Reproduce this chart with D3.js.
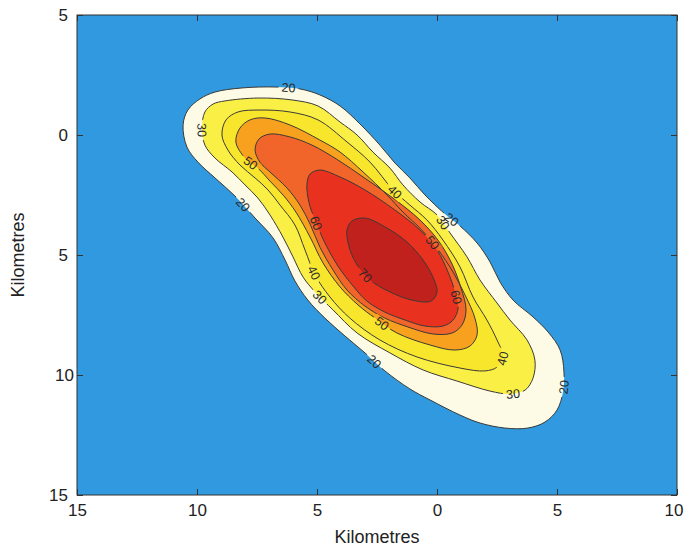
<!DOCTYPE html>
<html>
<head>
<meta charset="utf-8">
<script src="https://cdn.jsdelivr.net/npm/d3@7"></script>
<style>
  body { margin: 0; background: #fff; }
  text { font-family: "Liberation Sans", Arial, sans-serif; }
</style>
</head>
<body>
<script>
// contour levels (km grid)
const levels = [20, 30, 40, 50, 55, 60, 70];

const contour20 = [[-10.58,-0.42],[-10.38,-1.04],[-9.88,-1.5],[-9.25,-1.79],[-8.13,-1.96],[-6.75,-2.0],[-5.71,-1.92],[-4.88,-1.67],[-4.04,-1.21],[-3.21,-0.46],[-2.38,0.42],[-1.75,1.17],[-1.13,1.79],[-0.5,2.5],[0.33,3.29],[0.96,3.79],[1.67,4.5],[2.21,5.29],[2.63,6.13],[3.17,6.88],[4.0,7.58],[4.63,8.21],[5.13,8.96],[5.29,9.88],[5.25,10.71],[5.0,11.46],[4.5,11.96],[3.79,12.21],[2.83,12.21],[1.79,12.0],[0.96,11.67],[-0.29,11.04],[-1.13,10.58],[-2.17,9.83],[-3.0,9.08],[-3.83,8.38],[-4.67,7.63],[-5.38,6.88],[-5.92,6.08],[-6.33,5.21],[-6.83,4.29],[-7.58,3.46],[-8.42,2.54],[-9.25,1.79],[-9.96,1.13],[-10.42,0.5]];

const contour30 = [[-9.79,-0.29],[-9.67,-0.96],[-9.33,-1.29],[-8.83,-1.42],[-7.46,-1.54],[-6.04,-1.46],[-4.96,-1.21],[-4.04,-0.54],[-3.33,0],[-2.67,0.71],[-1.96,1.38],[-1.42,2.08],[-0.71,2.79],[0,3.33],[0.54,4.08],[1.25,5.08],[1.79,6.04],[2.5,7.0],[3.04,7.71],[3.75,8.54],[4.08,9.38],[4.0,10.13],[3.67,10.63],[3.04,10.79],[2.21,10.67],[0.83,10.25],[-0.58,9.79],[-1.96,9.08],[-3.33,8.25],[-4.33,7.29],[-5.08,6.54],[-5.58,5.92],[-6.0,5.08],[-6.42,4.25],[-6.96,3.33],[-7.46,2.63],[-8.0,2.08],[-8.54,1.54],[-9.25,0.96],[-9.67,0.42]];

const contour40 = [[-8.96,0],[-8.79,-0.63],[-8.29,-0.96],[-7.38,-1.04],[-6.13,-0.96],[-4.96,-0.63],[-3.75,0.29],[-2.79,1.13],[-1.83,2.29],[-1.13,2.92],[-0.42,3.54],[0.25,4.38],[0.96,5.5],[1.5,6.75],[2.08,7.71],[2.5,8.54],[2.75,9.21],[2.5,9.67],[2.0,9.83],[0.96,9.71],[-0.83,9.25],[-2.38,8.54],[-3.63,7.63],[-4.46,6.75],[-5.08,5.83],[-5.5,4.79],[-5.92,3.75],[-6.54,2.92],[-7.04,2.29],[-7.58,1.79],[-8.21,1.25],[-8.71,0.63]];

const contour50 = [[-8.38,0.29],[-8.21,-0.29],[-7.79,-0.63],[-7.17,-0.71],[-6.13,-0.42],[-4.88,0.21],[-4.04,0.71],[-3.08,1.54],[-2.08,2.5],[-1.42,3.21],[-0.71,3.88],[-0.17,4.5],[0.54,5.5],[1.17,6.67],[1.58,7.63],[1.67,8.33],[1.38,8.79],[0.75,8.96],[-0.29,8.75],[-1.67,8.25],[-2.58,7.63],[-3.29,7.08],[-4.04,6.33],[-4.75,5.33],[-5.29,4.25],[-5.88,3.21],[-6.38,2.54],[-6.96,1.92],[-7.46,1.38],[-8.0,0.96]];

const contour55 = [[-7.58,0.63],[-7.42,0.17],[-6.96,-0.04],[-6.13,0.08],[-5.21,0.42],[-4.13,1.04],[-3.08,1.75],[-1.83,2.63],[-0.71,3.54],[0.04,4.38],[0.63,5.38],[1.0,6.38],[1.21,7.29],[1.04,7.92],[0.63,8.25],[-0.17,8.29],[-1.21,8.0],[-2.17,7.63],[-3.0,7.13],[-3.75,6.46],[-4.33,5.63],[-4.88,4.67],[-5.29,3.71],[-5.71,2.92],[-6.25,2.21],[-6.96,1.54],[-7.38,1.13]];

const contour60 = [[-5.42,2.08],[-5.29,1.63],[-4.88,1.46],[-4.04,1.75],[-3.0,2.29],[-1.75,3.13],[-0.71,3.96],[0,4.79],[0.46,5.71],[0.75,6.54],[0.88,7.21],[0.67,7.71],[0.25,7.96],[-0.5,7.96],[-1.33,7.71],[-2.17,7.38],[-2.92,6.92],[-3.5,6.29],[-4.13,5.46],[-4.67,4.5],[-5.08,3.54],[-5.33,2.83]];

const contour70 = [[-3.75,3.96],[-3.54,3.58],[-3.0,3.46],[-2.08,3.88],[-1.25,4.46],[-0.58,5.21],[-0.17,5.92],[0,6.54],[-0.25,6.92],[-1.04,6.88],[-1.96,6.54],[-2.79,6.04],[-3.38,5.33],[-3.67,4.63]];

// [level, x km, y km] where each inline label sits
const labelPoints = [
  [20,-6.21,-1.96],[20,-8.0,2.83],[20,0.67,3.42],[20,-2.71,9.54],[20,5.13,10.5],
  [30,-9.75,-0.21],[30,0.13,3.71],[30,-4.88,6.75],[30,3.17,10.71],
  [40,-1.83,2.42],[40,-4.96,5.67],[40,2.63,9.29],
  [50,-7.75,1.17],[50,-0.17,4.46],[50,-2.25,7.79],
  [60,-5.29,3.79],[60,0.88,6.75],
  [70,-3.08,5.92]
];

const xTicks = [-15, -10, -5, 0, 5, 10];
const yTicks = [-5, 0, 5, 10, 15];

const contours = [
  {level: 20, points: contour20}, {level: 30, points: contour30},
  {level: 40, points: contour40}, {level: 50, points: contour50},
  {level: 55, points: contour55}, {level: 60, points: contour60},
  {level: 70, points: contour70}
];

const W = 684, H = 549;
const m = {left: 77, top: 15, right: 677, bottom: 495};

const x = d3.scaleLinear().domain([-15, 10]).range([m.left, m.right]);
const y = d3.scaleLinear().domain([-5, 15]).range([m.top, m.bottom]);
const fill = d3.scaleOrdinal()
  .domain(levels)
  .range(["#fdfbe6", "#faef45", "#f8e62c", "#f7a11e", "#f1652a", "#e8321f", "#c0211d"]);

const svg = d3.select("body").append("svg")
  .attr("width", W)
  .attr("height", H);

svg.append("rect").attr("width", W).attr("height", H).attr("fill", "#fff");

const defs = svg.append("defs");
defs.append("clipPath").attr("id", "plotArea").append("rect")
  .attr("x", m.left).attr("y", m.top)
  .attr("width", m.right - m.left).attr("height", m.bottom - m.top);

const plot = svg.append("g").attr("clip-path", "url(#plotArea)");

// below lowest level
plot.append("rect")
  .attr("x", m.left).attr("y", m.top)
  .attr("width", m.right - m.left).attr("height", m.bottom - m.top)
  .attr("fill", "#3199df");

const line = d3.line()
  .x(d => x(d[0]))
  .y(d => y(d[1]))
  .curve(d3.curveCatmullRomClosed.alpha(0.5));

contours.forEach(c => {
  plot.append("path")
    .attr("d", line(c.points))
    .attr("fill", fill(c.level));
});

// contour lines, with gaps cut where the labels go
const mask = defs.append("mask").attr("id", "gaps")
  .attr("maskUnits", "userSpaceOnUse")
  .attr("x", 0).attr("y", 0).attr("width", W).attr("height", H);
mask.append("rect").attr("width", W).attr("height", H).attr("fill", "#fff");

const lineGroup = plot.append("g").attr("mask", "url(#gaps)");
const paths = {};
contours.forEach(c => {
  paths[c.level] = lineGroup.append("path")
    .attr("d", line(c.points))
    .attr("fill", "none")
    .attr("stroke", "#3a3a36")
    .attr("stroke-width", 1)
    .node();
});

labelPoints.forEach(([lev, lx, ly]) => {
  const p = paths[lev];
  const L = p.getTotalLength();
  const tx = x(lx), ty = y(ly);
  let best = 0, bd = Infinity;
  for (let s = 0; s < L; s += 1) {
    const q = p.getPointAtLength(s);
    const d = (q.x - tx) ** 2 + (q.y - ty) ** 2;
    if (d < bd) { bd = d; best = s; }
  }
  const a = p.getPointAtLength((best - 5 + L) % L);
  const b = p.getPointAtLength((best + 5) % L);
  const c = p.getPointAtLength(best);
  let ang = Math.atan2(b.y - a.y, b.x - a.x) * 180 / Math.PI;
  if (ang > 90) ang -= 180;
  if (ang < -90) ang += 180;
  const tf = `translate(${c.x},${c.y}) rotate(${ang})`;

  mask.append("rect")
    .attr("x", -10).attr("y", -5).attr("width", 20).attr("height", 10)
    .attr("transform", tf)
    .attr("fill", "#000");

  plot.append("text")
    .attr("transform", tf)
    .attr("text-anchor", "middle")
    .attr("dy", "0.36em")
    .attr("font-size", 12.5)
    .attr("fill", "#2a2a2a")
    .text(lev);
});

// axes: ticks inward on all four sides
const fmt = d => Math.abs(d);
const axes = [
  {gen: d3.axisBottom(x).tickValues(xTicks).tickFormat(fmt), t: `translate(0,${m.bottom})`},
  {gen: d3.axisTop(x).tickValues(xTicks).tickFormat(""), t: `translate(0,${m.top})`},
  {gen: d3.axisLeft(y).tickValues(yTicks).tickFormat(fmt), t: `translate(${m.left},0)`},
  {gen: d3.axisRight(y).tickValues(yTicks).tickFormat(""), t: `translate(${m.right},0)`}
];
axes.forEach(ax => {
  const g = svg.append("g")
    .attr("transform", ax.t)
    .call(ax.gen.tickSize(-6).tickPadding(9));
  g.select(".domain").remove();
  g.selectAll("line").attr("stroke", "#333");
  g.selectAll("text")
    .attr("font-size", 17)
    .attr("fill", "#222")
    .style("font-family", "'Liberation Sans', Arial, sans-serif");
});

// last bottom label sits against the page edge
svg.selectAll("g.tick text")
  .filter(d => d === xTicks[xTicks.length - 1])
  .attr("text-anchor", "end")
  .attr("dx", 6);

svg.append("rect")
  .attr("x", m.left).attr("y", m.top)
  .attr("width", m.right - m.left).attr("height", m.bottom - m.top)
  .attr("fill", "none")
  .attr("stroke", "#333")
  .attr("stroke-width", 1);

svg.append("text")
  .attr("x", (m.left + m.right) / 2)
  .attr("y", 543)
  .attr("text-anchor", "middle")
  .attr("font-size", 18)
  .attr("fill", "#222")
  .text("Kilometres");

svg.append("text")
  .attr("transform", `translate(24,${(m.top + m.bottom) / 2}) rotate(-90)`)
  .attr("text-anchor", "middle")
  .attr("font-size", 18)
  .attr("fill", "#222")
  .text("Kilometres");
</script>
</body>
</html>
